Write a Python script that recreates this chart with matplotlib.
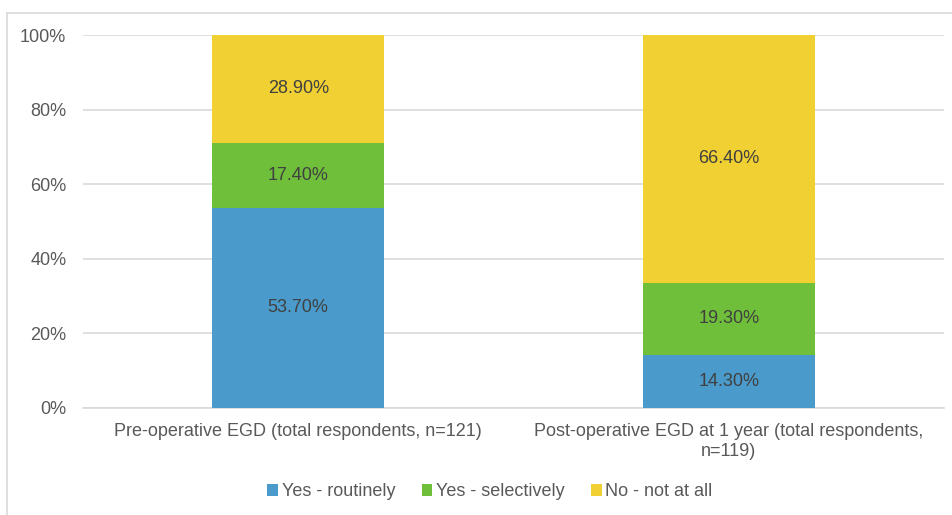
import matplotlib
matplotlib.use("Agg")
import matplotlib.pyplot as plt
from matplotlib.lines import Line2D
from matplotlib.ticker import FuncFormatter

plt.rcParams["font.family"] = ["Liberation Sans", "DejaVu Sans"]

categories = [
    "Pre-operative EGD (total respondents, n=121)",
    "Post-operative EGD at 1 year (total respondents,\nn=119)",
]
series_names = ["Yes - routinely", "Yes - selectively", "No - not at all"]
routinely = [53.7, 14.3]
selectively = [17.4, 19.3]
not_at_all = [28.9, 66.4]

colors = ["#4A9BCB", "#6FBF3B", "#F0D032"]
FS = 13

W, H = 953, 515
fig = plt.figure(figsize=(W / 100, H / 100), dpi=100)
ax = fig.add_axes([83 / W, 1 - 408 / H, (944 - 83) / W, (408 - 35) / H])

x = range(len(categories))
bottom = [0.0] * len(categories)
for name, vals, col in zip(series_names, [routinely, selectively, not_at_all], colors):
    ax.bar(x, vals, width=0.4, bottom=bottom, color=col, label=name, zorder=3)
    for i, v in enumerate(vals):
        ax.text(i, bottom[i] + v / 2, f"{v:.2f}%", ha="center", va="center",
                fontsize=FS, color="#404040", zorder=4)
    bottom = [b + v for b, v in zip(bottom, vals)]

ax.set_xlim(-0.5, 1.5)
ax.set_ylim(0, 100)
ax.set_yticks(range(0, 101, 20))
ax.yaxis.set_major_formatter(FuncFormatter(lambda v, p: f"{v:.0f}%"))
ax.set_xticks(list(x))
ax.set_xticklabels(categories, linespacing=1.2)
ax.grid(axis="y", color="#D9D9D9", linewidth=1.2, zorder=0)
for s in ["top", "right", "left"]:
    ax.spines[s].set_visible(False)
ax.spines["bottom"].set_color("#D9D9D9")
ax.spines["bottom"].set_linewidth(1.2)
ax.tick_params(axis="both", length=0, labelsize=FS, colors="#595959")
ax.tick_params(axis="y", pad=12)
ax.tick_params(axis="x", pad=11)

ax.legend(loc="center", bbox_to_anchor=(490 / W, 1 - 492 / H), bbox_transform=fig.transFigure,
          ncol=3, frameon=False, fontsize=FS, handlelength=0.6, handleheight=0.6,
          handletextpad=0.2, columnspacing=1.45, labelcolor="#595959")

# outer chart border (top and left edges visible)
fig.add_artist(Line2D([7 / W, 1], [1 - 13 / H, 1 - 13 / H], color="#D9D9D9", linewidth=1.2))
fig.add_artist(Line2D([7 / W, 7 / W], [0, 1 - 13 / H], color="#D9D9D9", linewidth=1.2))

fig.savefig("out.png", dpi=100)
